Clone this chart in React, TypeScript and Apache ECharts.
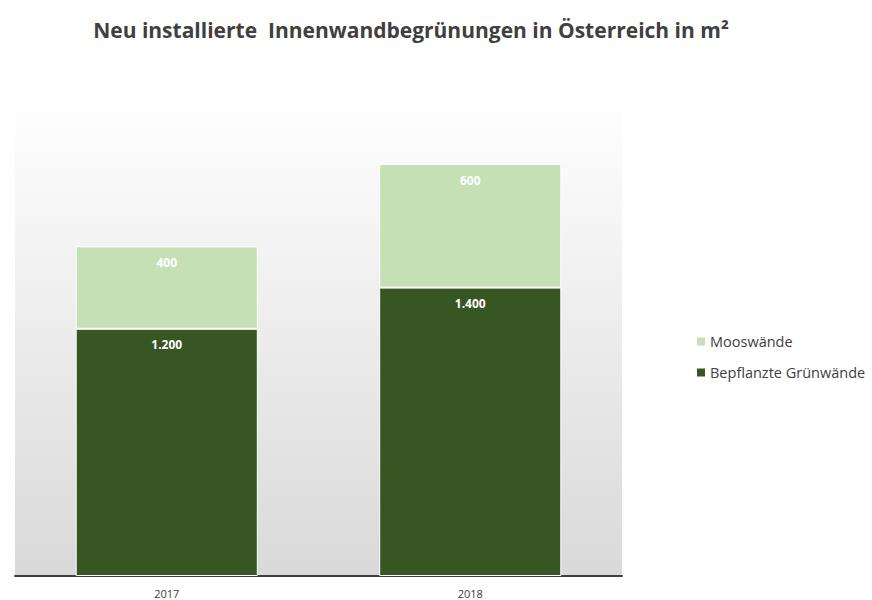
import React, { useEffect, useRef } from "react";
import * as echarts from "echarts";

const categories = ["2017", "2018"];
const bepflanzt = [1200, 1400];
const moos = [400, 600];
const seriesNames = ["Bepflanzte Grünwände", "Mooswände"];

const fmt = (v: number) => v.toLocaleString("de-DE");

export default function App() {
  const ref = useRef<HTMLDivElement>(null);
  useEffect(() => {
    const chart = echarts.init(ref.current!, null, { renderer: "svg" });
    const font = "Open Sans, Liberation Sans, sans-serif";
    const label = {
      show: true,
      position: "insideTop" as const,
      distance: 10,
      color: "#ffffff",
      fontWeight: "bold" as const,
      fontSize: 12,
      fontFamily: font,
      formatter: (p: any) => fmt(p.value),
    };
    chart.setOption({
      animation: false,
      title: {
        text: "Neu installierte  Innenwandbegrünungen in Österreich in m²",
        left: 406,
        textAlign: "center",
        top: 14,
        textStyle: { fontSize: 21, fontWeight: "bold", color: "#404040", fontFamily: font },
      },
      graphic: [
        {
          type: "rect",
          z: -10,
          silent: true,
          shape: { x: 15, y: 95, width: 607, height: 481 },
          style: {
            fill: new echarts.graphic.LinearGradient(0, 0, 0, 1, [
              { offset: 0, color: "#ffffff" },
              { offset: 1, color: "#d9d9d9" },
            ]),
          },
        },
      ],
      legend: {
        orient: "vertical",
        left: 690,
        top: 329,
        itemWidth: 10,
        itemHeight: 10,
        itemGap: 16,
        icon: "rect",
        data: ["Mooswände", "Bepflanzte Grünwände"],
        textStyle: { fontSize: 14.5, color: "#404040", fontFamily: font, padding: [0, 0, 0, -1] },
      },
      grid: { left: 15, right: 250, top: 61, bottom: 24 },
      xAxis: {
        type: "category",
        data: categories,
        axisTick: { show: false },
        axisLine: { lineStyle: { color: "#404040", width: 2 } },
        axisLabel: { color: "#404040", fontSize: 11, margin: 12, fontFamily: font },
      },
      yAxis: {
        type: "value",
        min: 0,
        max: 2500,
        show: false,
        splitLine: { show: false },
      },
      series: [
        {
          name: seriesNames[0],
          type: "bar",
          stack: "s",
          barWidth: "60%",
          data: bepflanzt,
          itemStyle: { color: "#375623", borderColor: "#ffffff", borderWidth: 1 },
          label,
        },
        {
          name: seriesNames[1],
          type: "bar",
          stack: "s",
          data: moos,
          itemStyle: { color: "#c5e0b4", borderColor: "#ffffff", borderWidth: 1 },
          label,
        },
      ],
    });
    return () => chart.dispose();
  }, []);
  return <div ref={ref} style={{ width: 872, height: 600, position: "absolute", left: 0, top: 0, background: "#fff" }} />;
}
